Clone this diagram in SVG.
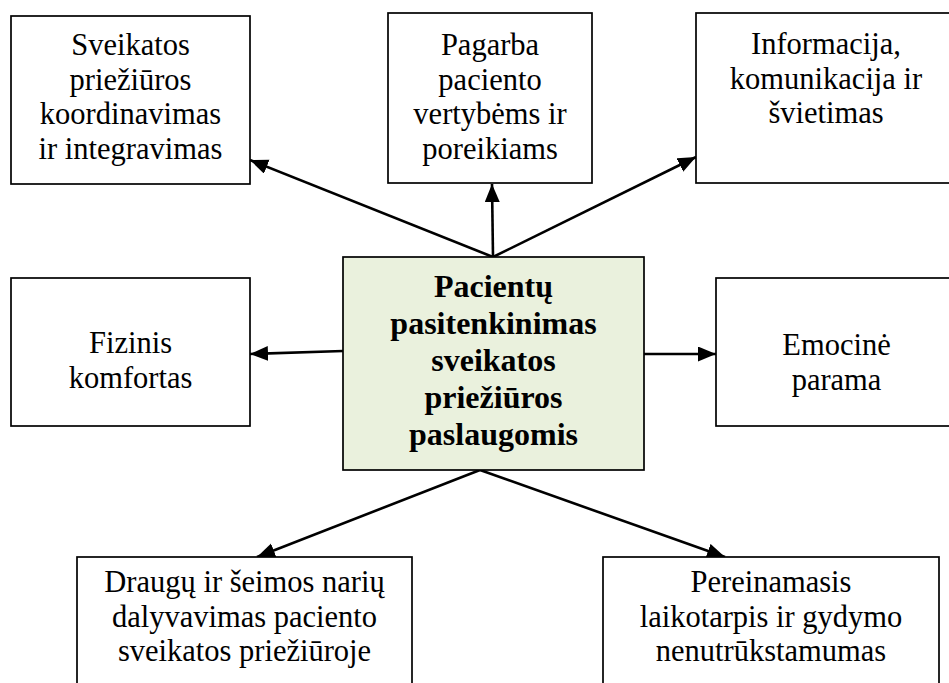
<svg xmlns="http://www.w3.org/2000/svg" width="949" height="683" viewBox="0 0 949 683">
<defs>
<style>
.box{fill:#ffffff;stroke:#000000;stroke-width:1.7}
.main{fill:#EAF1DD;stroke:#000000;stroke-width:1.7}
.t{font-family:"Liberation Serif","Times New Roman",serif;font-size:30.5px;fill:#000000;text-anchor:middle}
.b{font-family:"Liberation Serif","Times New Roman",serif;font-size:32px;font-weight:bold;fill:#000000;text-anchor:middle}
.c{stroke:#000000;stroke-width:2.6;fill:none;marker-end:url(#ah)}
</style>
<marker id="ah" markerUnits="userSpaceOnUse" markerWidth="20" markerHeight="16" refX="18" refY="7.5" orient="auto">
<path d="M0,0 L18,7.5 L0,15 z" fill="#000000"/>
</marker>
</defs>
<rect width="949" height="683" fill="#ffffff"/>
<g id="connectors">
<line class="c" x1="493" y1="257" x2="250" y2="160"/>
<line class="c" x1="493" y1="257" x2="492" y2="184"/>
<line class="c" x1="493" y1="257" x2="696" y2="157"/>
<line class="c" x1="343" y1="351" x2="250" y2="354"/>
<line class="c" x1="644" y1="354" x2="716" y2="354"/>
<line class="c" x1="480" y1="470" x2="257" y2="557"/>
<line class="c" x1="480" y1="470" x2="725" y2="557"/>
</g>
<g id="node-koordinavimas">
<rect class="box" x="11" y="16" width="239" height="168"/>
<text class="t"><tspan x="130.5" y="55">Sveikatos</tspan><tspan x="130.5" y="89.5">priežiūros</tspan><tspan x="130.5" y="124">koordinavimas</tspan><tspan x="130.5" y="158.5">ir integravimas</tspan></text>
</g>
<g id="node-pagarba">
<rect class="box" x="388" y="13" width="204" height="170"/>
<text class="t"><tspan x="490" y="55">Pagarba</tspan><tspan x="490" y="89.5">paciento</tspan><tspan x="490" y="124">vertybėms ir</tspan><tspan x="490" y="158.5">poreikiams</tspan></text>
</g>
<g id="node-informacija">
<rect class="box" x="696" y="13" width="262" height="170"/>
<text class="t"><tspan x="826" y="54">Informacija,</tspan><tspan x="826" y="88.5">komunikacija ir</tspan><tspan x="826" y="123">švietimas</tspan></text>
</g>
<g id="node-fizinis">
<rect class="box" x="11" y="278" width="239" height="148"/>
<text class="t"><tspan x="130.5" y="353">Fizinis</tspan><tspan x="130.5" y="387.5">komfortas</tspan></text>
</g>
<g id="node-center">
<rect class="main" x="343" y="257" width="301" height="213"/>
<text class="b"><tspan x="493.5" y="297">Pacientų</tspan><tspan x="493.5" y="334">pasitenkinimas</tspan><tspan x="493.5" y="371">sveikatos</tspan><tspan x="493.5" y="408">priežiūros</tspan><tspan x="493.5" y="445">paslaugomis</tspan></text>
</g>
<g id="node-emocine">
<rect class="box" x="716" y="278" width="242" height="148"/>
<text class="t"><tspan x="836.5" y="355">Emocinė</tspan><tspan x="836.5" y="389.5">parama</tspan></text>
</g>
<g id="node-draugu">
<rect class="box" x="77" y="557" width="335" height="150"/>
<text class="t"><tspan x="244.5" y="592">Draugų ir šeimos narių</tspan><tspan x="244.5" y="626.5">dalyvavimas paciento</tspan><tspan x="244.5" y="661">sveikatos priežiūroje</tspan></text>
</g>
<g id="node-pereinamasis">
<rect class="box" x="603" y="557" width="336" height="150"/>
<text class="t"><tspan x="771" y="592">Pereinamasis</tspan><tspan x="771" y="626.5">laikotarpis ir gydymo</tspan><tspan x="771" y="661">nenutrūkstamumas</tspan></text>
</g>
</svg>
